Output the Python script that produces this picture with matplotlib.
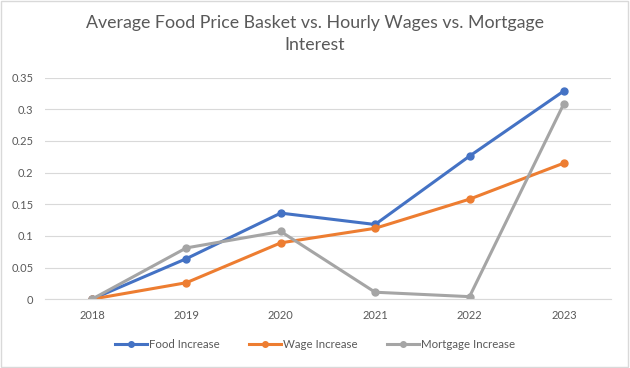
import matplotlib
matplotlib.use("Agg")
import matplotlib.pyplot as plt
from matplotlib.patches import Rectangle

# Данные
years = ["2018", "2019", "2020", "2021", "2022", "2023"]
food = [0.0, 0.064, 0.136, 0.118, 0.226, 0.329]
wage = [0.0, 0.026, 0.089, 0.112, 0.158, 0.215]
mortgage = [0.0, 0.081, 0.107, 0.011, 0.004, 0.309]
y_ticks = [0, 0.05, 0.1, 0.15, 0.2, 0.25, 0.3, 0.35]
y_labels = ["0", "0.05", "0.1", "0.15", "0.2", "0.25", "0.3", "0.35"]

plt.rcParams['font.family'] = ['Lato', 'DejaVu Sans']
text_color = "#595959"

fig = plt.figure(figsize=(6.3, 3.68), dpi=100)
ax = fig.add_axes([0.071, 0.187, 0.899, 0.602])

x = range(len(years))
ax.plot(x, food, color="#4472C4", lw=2.2, marker='o', ms=5, label="Food Increase")
ax.plot(x, wage, color="#ED7D31", lw=2.2, marker='o', ms=5, label="Wage Increase")
ax.plot(x, mortgage, color="#A5A5A5", lw=2.2, marker='o', ms=5, label="Mortgage Increase")

ax.set_xlim(-0.5, len(years) - 0.5)
ax.set_ylim(0, 0.35)
ax.set_xticks(list(x))
ax.set_xticklabels(years)
ax.set_yticks(y_ticks)
ax.set_yticklabels(y_labels)
ax.tick_params(length=0, labelsize=8, colors=text_color, pad=8)
ax.grid(axis='y', color="#D9D9D9", lw=0.8)
ax.set_axisbelow(True)
for side in ["top", "right", "left"]:
    ax.spines[side].set_visible(False)
ax.spines["bottom"].set_color("#D9D9D9")

fig.text(0.5, 0.96, "Average Food Price Basket vs. Hourly Wages vs. Mortgage\nInterest",
         ha='center', va='top', fontsize=12.8, color=text_color, linespacing=1.45)

fig.legend(loc='center', bbox_to_anchor=(0.5, 0.065), ncol=3, frameon=False,
           fontsize=8.3, labelcolor=text_color, handlelength=2.8, columnspacing=2.5,
           handletextpad=0.2, markerscale=0.8)

fig.patches.append(Rectangle((0.002, 0.003), 0.995, 0.993, transform=fig.transFigure,
                             fill=False, edgecolor="#D9D9D9", lw=1))

fig.savefig("out.png", dpi=100)
